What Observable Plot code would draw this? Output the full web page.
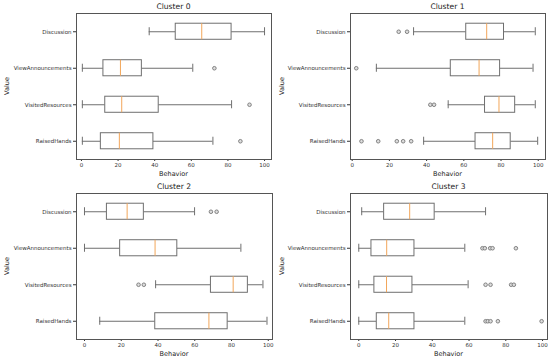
<!DOCTYPE html>
<html><head><meta charset="utf-8">
<script src="https://cdn.jsdelivr.net/npm/d3@7"></script>
<script src="https://cdn.jsdelivr.net/npm/@observablehq/plot@0.6"></script>
<style>
body{margin:0;background:#fff;font-family:"DejaVu Sans",sans-serif;}
#root{position:relative;width:550px;height:361px;overflow:hidden;background:#fff;}
.t{position:absolute;white-space:nowrap;color:#222;transform:translate(-50%,-50%);line-height:1;}
.p{position:absolute;}
</style></head><body><div id="root"></div>
<script>
// ---- data ----
const behaviors = ["Discussion", "ViewAnnouncements", "VisitedResources", "RaisedHands"];
const clusters = ["Cluster 0", "Cluster 1", "Cluster 2", "Cluster 3"];
const xTicks = [0, 20, 40, 60, 80, 100];
// each row: one cluster, values in behaviors order
const whiskerLow  = [[37, 0.5, 0.5, 0.5], [33, 13, 51.6, 38.4], [0, 0, 38.7, 8.3], [1.6, 0, 0, 0]];
const q1          = [[51.5, 12, 13, 10.6], [61.3, 53, 71.4, 66.3], [12.2, 19.4, 68.8, 38.5], [13.8, 6.9, 8.5, 9.8]];
const median      = [[65.7, 21.3, 22, 20.7], [72.3, 68.2, 78.9, 75.5], [23.2, 38.4, 80.9, 67.7], [27.7, 15.2, 15.1, 16.3]];
const q3          = [[82, 33, 42.2, 39.3], [81.6, 79.5, 87.6, 85.2], [32.3, 50.5, 88.9, 77.9], [41.3, 30.3, 29.2, 30.3]];
const whiskerHigh = [[100, 60.8, 82, 71.8], [98.4, 97.2, 98.4, 99.7], [59.9, 85.1, 97.1, 99.3], [69, 57.7, 59.5, 57.7]];
const outliers = [
  [[], [72.6], [91.8], [86.8]],
  [[25, 29.5], [2.2], [42, 44], [5, 14, 24, 27.4, 31.7]],
  [[68.8, 71.9], [], [29.4, 32.3], []],
  [[], [67.3, 68.6, 71.5, 72.8, 85.5], [69, 71.7, 82.9, 84.4], [69, 70.2, 71.7, 75.7, 99.5]]
];

// ---- layout ----
const panels = [
  {left: 0,   top: 12,  height: 168, mL: 76, mR: 4, mB: 21, xDomain: [-2.7, 103.8]},
  {left: 275, top: 12,  height: 168, mL: 75, mR: 5, mB: 21, xDomain: [-0.9, 103.9]},
  {left: 0,   top: 192, height: 169, mL: 76, mR: 3, mB: 22, xDomain: [-4.35, 102.3]},
  {left: 275, top: 192, height: 169, mL: 75, mR: 3, mB: 22, xDomain: [-4.5, 102.7]}
];
const W = 275;
const edge = "#6f6f6f";
const root = document.getElementById("root");

function label(text, x, y, size, rotate) {
  const d = document.createElement("div");
  d.className = "t";
  d.textContent = text;
  d.style.left = x + "px";
  d.style.top = y + "px";
  d.style.fontSize = size + "px";
  if (rotate) d.style.transform = "translate(-50%,-50%) rotate(-90deg)";
  root.appendChild(d);
}

clusters.forEach((name, c) => {
  const P = panels[c];
  const stats = behaviors.map((b, i) => ({
    behavior: b, lo: whiskerLow[c][i], q1: q1[c][i], med: median[c][i], q3: q3[c][i], hi: whiskerHigh[c][i]
  }));
  const outs = behaviors.flatMap((b, i) => outliers[c][i].map(v => ({behavior: b, value: v})));
  const chart = Plot.plot({
    width: W, height: P.height,
    marginLeft: P.mL, marginRight: P.mR, marginTop: 1, marginBottom: P.mB,
    style: {fontSize: "5.5px", fontFamily: "DejaVu Sans, sans-serif", color: "#333", background: "transparent", overflow: "visible"},
    x: {domain: P.xDomain, ticks: xTicks, tickSize: 2, tickPadding: 1.5, label: null, tickFormat: d => String(d)},
    y: {domain: behaviors, type: "band", paddingInner: 0.56, paddingOuter: 0.28, round: false, tickSize: 3, tickPadding: 2, label: null},
    marks: [
      Plot.ruleY(stats, {y: "behavior", x1: "lo", x2: "q1", stroke: edge, strokeWidth: 1}),
      Plot.ruleY(stats, {y: "behavior", x1: "q3", x2: "hi", stroke: edge, strokeWidth: 1}),
      Plot.tickX(stats, {x: "lo", y: "behavior", stroke: edge, insetTop: 4, insetBottom: 4}),
      Plot.tickX(stats, {x: "hi", y: "behavior", stroke: edge, insetTop: 4, insetBottom: 4}),
      Plot.barX(stats, {x1: "q1", x2: "q3", y: "behavior", fill: "white", stroke: edge, strokeWidth: 1}),
      Plot.tickX(stats, {x: "med", y: "behavior", stroke: "#f2a65a", strokeWidth: 1}),
      Plot.dot(outs, {x: "value", y: "behavior", r: 1.8, stroke: "#777", strokeWidth: 0.9, fill: "#ddd"}),
      Plot.frame({stroke: "#555", strokeWidth: 1})
    ]
  });
  const wrap = document.createElement("div");
  wrap.className = "p";
  wrap.style.left = P.left + "px";
  wrap.style.top = P.top + "px";
  wrap.appendChild(chart);
  root.appendChild(wrap);

  const fx0 = P.left + P.mL, fx1 = P.left + W - P.mR;
  const fy0 = P.top + 1, fy1 = P.top + P.height - P.mB;
  const cx = (fx0 + fx1) / 2;
  label(name, cx, fy0 - 6.5, 7.6);
  label("Behavior", cx, fy1 + 15, 6.5);
  label("Value", P.left + 7, (fy0 + fy1) / 2, 6.5, true);
});
</script>
</body></html>
